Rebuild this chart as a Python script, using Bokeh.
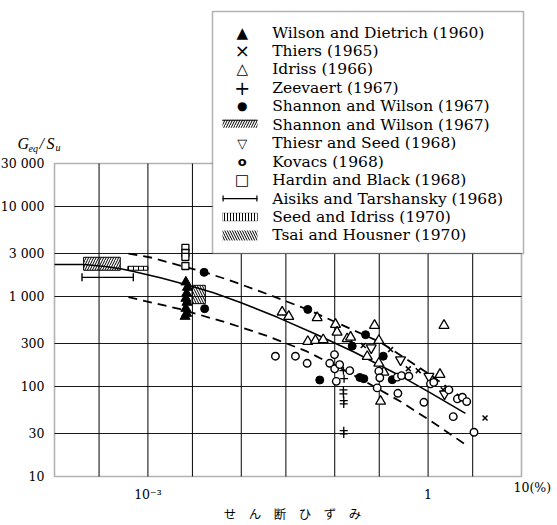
import math
from bokeh.plotting import figure
from bokeh.models import Range1d, FixedTicker, CustomJSTickFormatter, Label, BoxAnnotation
from bokeh.embed import file_html
from bokeh.resources import INLINE

# ---- shear strain (%) vs Geq/Su, read per data source ----
wilson_x = [2.55e-3, 2.65e-3, 2.6e-3, 2.55e-3, 2.62e-3, 2.55e-3, 2.6e-3, 2.5e-3]
wilson_y = [1445, 1262, 1082, 952, 860, 736, 648, 600]

thiers_x = [0.202, 0.396, 0.614, 0.785, 1.45, 4.07]
thiers_y = [285, 257, 157, 150, 92, 44.7]

idriss_x = [0.0274, 0.0322, 0.0649, 0.102, 0.106, 0.136, 0.148, 0.267, 0.297,
            0.0515, 0.0622, 0.0753, 0.223, 0.297, 0.336, 0.31, 1.48, 1.34]
idriss_y = [670, 600, 581, 489, 401, 339, 353, 477, 324,
            316, 324, 330, 215, 181, 144, 68.4, 477, 136]

zeevaert_x = [0.124, 0.126, 0.124, 0.124, 0.125, 0.125, 0.125, 0.125]
zeevaert_y = [150, 122, 91.6, 82.7, 69.7, 64, 32.3, 29.7]

shannon_x = [4.0e-3, 4.05e-3, 0.0515, 0.214, 0.154, 0.331, 0.0692, 0.186, 0.205, 0.413]
shannon_y = [1854, 731, 718, 376, 281, 217, 118, 126, 122, 119]

thiesr_x = [0.246, 0.507, 1.02, 1.50]
thiesr_y = [269, 198, 130, 82.7]

kovacs_x = [0.0232, 0.038, 0.0507, 0.0885, 0.0995, 0.1, 0.113, 0.104, 0.145,
            0.297, 0.304, 0.285, 0.468, 0.52, 0.622, 0.475, 1.06, 1.15, 0.902,
            1.67, 2.06, 2.33, 2.59, 1.86, 3.1]
kovacs_y = [217, 217, 181, 181, 226, 157, 175, 114, 150,
            148, 125, 96.5, 127, 132, 130, 84, 107, 111, 66.7,
            91.6, 72.8, 75.9, 67.9, 46.2, 31]

hardin_x = [2.52e-3, 2.52e-3, 2.52e-3, 2.52e-3]
hardin_y = [3460, 3040, 2750, 2180]

# ranges reported as bands / bars: (strain from, strain to, ratio from, ratio to)
shannon_band = (2.05e-4, 5.06e-4, 1955, 2724)
seed_band = (6.1e-4, 1.0e-3, 1955, 2163)
tsai_band = (2.97e-3, 4.12e-3, 832, 1330)
aisiks_bar = (1.97e-4, 6.98e-4, 1630)

# mean curve and the dashed bounding curves
mid_x = [1e-4, 2.04e-4, 3.52e-4, 5.09e-4, 7.02e-4, 1.36e-3, 2.65e-3, 5.04e-3,
         9.8e-3, 0.0244, 0.0622, 0.163, 0.506, 1.06, 2.51]
mid_y = [2265, 2265, 2153, 2029, 1892, 1611, 1340, 1099,
         857, 586, 383, 240, 131, 85, 50.2]
upper_x = [6.19e-4, 1.07e-3, 4.04e-3, 7.66e-3, 0.0195, 0.0512, 0.131, 0.309, 0.559, 1.01, 2.39]
upper_y = [3000, 2710, 1860, 1503, 1052, 716, 462, 310, 208, 139, 73.1]
lower_x = [6.19e-4, 2.23e-3, 7.66e-3, 0.0195, 0.0487, 0.148, 0.506, 1.11, 2.51]
lower_y = [982, 722, 497, 360, 249, 140, 68.1, 40.3, 22.7]

y_ticks = [10, 30, 100, 300, 1000, 3000, 10000, 30000]
y_labels = ["10", "30", "100", "300", "1 000", "3 000", "10 000", "30 000"]
x_ticks = [1e-3, 1]
x_labels = ["10\u207b\u00b3", "1"]
x_grid = [3e-4, 1e-3, 3e-3, 1e-2, 3e-2, 0.1, 0.3, 1, 3]
y_grid = [30, 100, 300, 1000, 3000, 10000]
x_lo, x_hi = 1e-4, 10
y_lo, y_hi = 10, 30000

legend_names = [
    "Wilson and Dietrich (1960)", "Thiers (1965)", "Idriss (1966)",
    "Zeevaert (1967)", "Shannon and Wilson (1967)", "Shannon and Wilson (1967)",
    "Thiesr and Seed (1968)", "Kovacs (1968)", "Hardin and Black (1968)",
    "Aisiks and Tarshansky (1968)", "Seed and Idriss (1970)", "Tsai and Housner (1970)",
]

SERIF = "DejaVu Serif"

# canvas and the pixel edges of the plotting box inside it
W, H = 557, 525
BL, BR, BT, BB = 54, 521, 163, 476

# the frame fills the whole canvas; ranges are widened so the box lands on its pixels
dx = (BR - BL) / (math.log10(x_hi) - math.log10(x_lo))
dy = (BB - BT) / (math.log10(y_hi) - math.log10(y_lo))
xr = Range1d(10 ** (math.log10(x_lo) - BL / dx), 10 ** (math.log10(x_hi) + (W - BR) / dx))
yr = Range1d(10 ** (math.log10(y_lo) - (H - BB) / dy), 10 ** (math.log10(y_hi) + BT / dy))

p = figure(width=W, height=H, x_axis_type="log", y_axis_type="log",
           x_range=xr, y_range=yr, output_backend="svg", toolbar_location=None,
           min_border=0, min_border_left=0, min_border_right=0,
           min_border_top=0, min_border_bottom=0)
p.title.visible = False
p.background_fill_color = "white"
p.border_fill_color = "white"
p.outline_line_color = None
p.xgrid.visible = False
p.ygrid.visible = False

fmt_code = """
const i = tv.findIndex(v => Math.abs(v - tick) <= 1e-9 * Math.abs(v));
return i >= 0 ? tl[i] : "";
"""
p.yaxis.ticker = FixedTicker(ticks=y_ticks)
p.yaxis.formatter = CustomJSTickFormatter(args=dict(tv=y_ticks, tl=y_labels), code=fmt_code)
p.yaxis.fixed_location = x_lo
p.xaxis.ticker = FixedTicker(ticks=x_ticks)
p.xaxis.formatter = CustomJSTickFormatter(args=dict(tv=x_ticks, tl=x_labels), code=fmt_code)
p.xaxis.fixed_location = y_lo
for ax in (p.xaxis, p.yaxis):
    ax.axis_line_color = None
    ax.major_tick_line_color = None
    ax.minor_tick_line_color = None
    ax.major_label_text_font = SERIF
    ax.major_label_text_font_size = "12.5px"
    ax.major_label_text_color = "black"
    ax.major_label_standoff = 4

# grid lines, confined to the plotting box
p.segment(x0=x_grid, x1=x_grid, y0=[y_lo] * len(x_grid), y1=[y_hi] * len(x_grid),
          line_color="black", line_width=1.1, line_alpha=0.9)
p.segment(x0=[x_lo] * len(y_grid), x1=[x_hi] * len(y_grid), y0=y_grid, y1=y_grid,
          line_color="black", line_width=1.1, line_alpha=0.9)

# bands
def band(b, pattern):
    x0, x1, y0, y1 = b
    p.quad(left=[x0], right=[x1], bottom=[y0], top=[y1], fill_color="white",
           fill_alpha=0.0, hatch_pattern=pattern, hatch_color="black",
           hatch_scale=5, hatch_weight=1.0, line_color="black", line_width=1.0)

band(shannon_band, "/")
band(seed_band, "|")
band(tsai_band, "\\")

p.segment(x0=[aisiks_bar[0]], x1=[aisiks_bar[1]], y0=[aisiks_bar[2]], y1=[aisiks_bar[2]],
          line_color="black", line_width=1.4)
p.scatter(x=[aisiks_bar[0], aisiks_bar[1]], y=[aisiks_bar[2]] * 2, marker="dash",
          angle=1.5708, size=8, line_color="black", line_width=1.4)

# curves
p.line(mid_x, mid_y, line_color="black", line_width=1.6)
p.line(upper_x, upper_y, line_color="black", line_width=1.8, line_dash="9 6")
p.line(lower_x, lower_y, line_color="black", line_width=1.8, line_dash="9 6")

# markers
p.scatter(wilson_x, wilson_y, marker="triangle", size=10, fill_color="black", line_color="black")
p.scatter(thiers_x, thiers_y, marker="x", size=7, line_color="black", line_width=1.5)
p.scatter(idriss_x, idriss_y, marker="triangle", size=10, fill_color="white", line_color="black", line_width=1.3)
p.scatter(zeevaert_x, zeevaert_y, marker="cross", size=8, line_color="black", line_width=1.3)
p.scatter(shannon_x, shannon_y, marker="circle", size=8, fill_color="black", line_color="black")
p.scatter(thiesr_x, thiesr_y, marker="inverted_triangle", size=10, fill_color="white", line_color="black", line_width=1.3)
p.scatter(kovacs_x, kovacs_y, marker="circle", size=7.5, fill_color="white", line_color="black", line_width=1.4)
p.scatter(hardin_x, hardin_y, marker="square", size=7, fill_color="white", line_color="black", line_width=1.3)

# plotting box outline
p.add_layout(BoxAnnotation(left=x_lo, right=x_hi, bottom=y_lo, top=y_hi, fill_alpha=0.0,
                           line_color="black", line_width=1.6))

# helpers: canvas pixel (from top-left) -> screen units of the frame
def sx(px):
    return px

def sy(py):
    return H - py

def text(px, py, s, size, font=SERIF, style="normal", align="left", baseline="middle"):
    p.add_layout(Label(x=sx(px), y=sy(py), x_units="screen", y_units="screen", text=s,
                       text_font=font, text_font_size=size, text_font_style=style,
                       text_align=align, text_baseline=baseline, text_color="black"))

def box(l, r, t, b, **kw):
    opts = dict(fill_color="white", fill_alpha=1.0, line_color="black", line_width=1.0)
    opts.update(kw)
    p.add_layout(BoxAnnotation(left=sx(l), right=sx(r), top=sy(t), bottom=sy(b),
                               left_units="screen", right_units="screen",
                               top_units="screen", bottom_units="screen", **opts))

# x-axis end label and titles
text(513, 487, "10(%)", "12.5px")
text(292, 513, "せ\u3000ん\u3000断\u3000ひ\u3000ず\u3000み", "12.5px", font="Noto Sans CJK JP", align="center")
text(17, 143, "G", "16px", font="Liberation Serif", style="italic")
text(28, 148, "eq", "10px", font="Liberation Serif", style="italic")
text(39, 143, "/", "16px", font="Liberation Serif", style="italic")
text(46, 143, "S", "16px", font="Liberation Serif", style="italic")
text(55, 147, "u", "10px", font="Liberation Serif", style="italic")

# legend
box(212, 523, 11, 253, line_width=1.5)
ROW0, STEP = 32.0, 18.45
SYM_X, TXT_X = 241.7, 271.7
SW_L, SW_R = 222, 257
syms = ["▲", "×", "△", "+", "●", None, "▽", "o", "□", None, None, None]
sym_sizes = ["15px", "18px", "15px", "19px", "12px", None, "13px", "13px", "15px", None, None, None]
for i, name in enumerate(legend_names):
    cy = ROW0 + i * STEP
    text(TXT_X, cy, name, "15.5px")
    if syms[i] is not None:
        text(SYM_X, cy, syms[i], sym_sizes[i], font="DejaVu Sans", align="center",
             style="bold" if syms[i] == "o" else "normal")
    elif i == 5:
        box(SW_L, SW_R, cy - 5, cy + 3, fill_alpha=0.0, hatch_pattern="/", hatch_color="black",
            hatch_scale=5, hatch_weight=1.0, line_alpha=0.0)
        box(SW_L, SW_R, cy - 5, cy - 4, fill_color="black", line_alpha=0.0)
    elif i == 9:
        box(SW_L, SW_R, cy - 0.6, cy + 0.6, fill_color="black", line_alpha=0.0)
        box(SW_L, SW_L + 1.2, cy - 3, cy + 3, fill_color="black", line_alpha=0.0)
        box(SW_R - 1.2, SW_R, cy - 3, cy + 3, fill_color="black", line_alpha=0.0)
    elif i == 10:
        box(SW_L, SW_R, cy - 4, cy + 4, fill_alpha=0.0, hatch_pattern="|", hatch_color="black",
            hatch_scale=3, hatch_weight=1.0, line_width=1.0)
    elif i == 11:
        box(SW_L, SW_R, cy - 5, cy + 5, fill_alpha=0.0, hatch_pattern="\\", hatch_color="black",
            hatch_scale=5, hatch_weight=1.0, line_alpha=0.0)

open("out.html", "w").write(file_html(p, INLINE))
